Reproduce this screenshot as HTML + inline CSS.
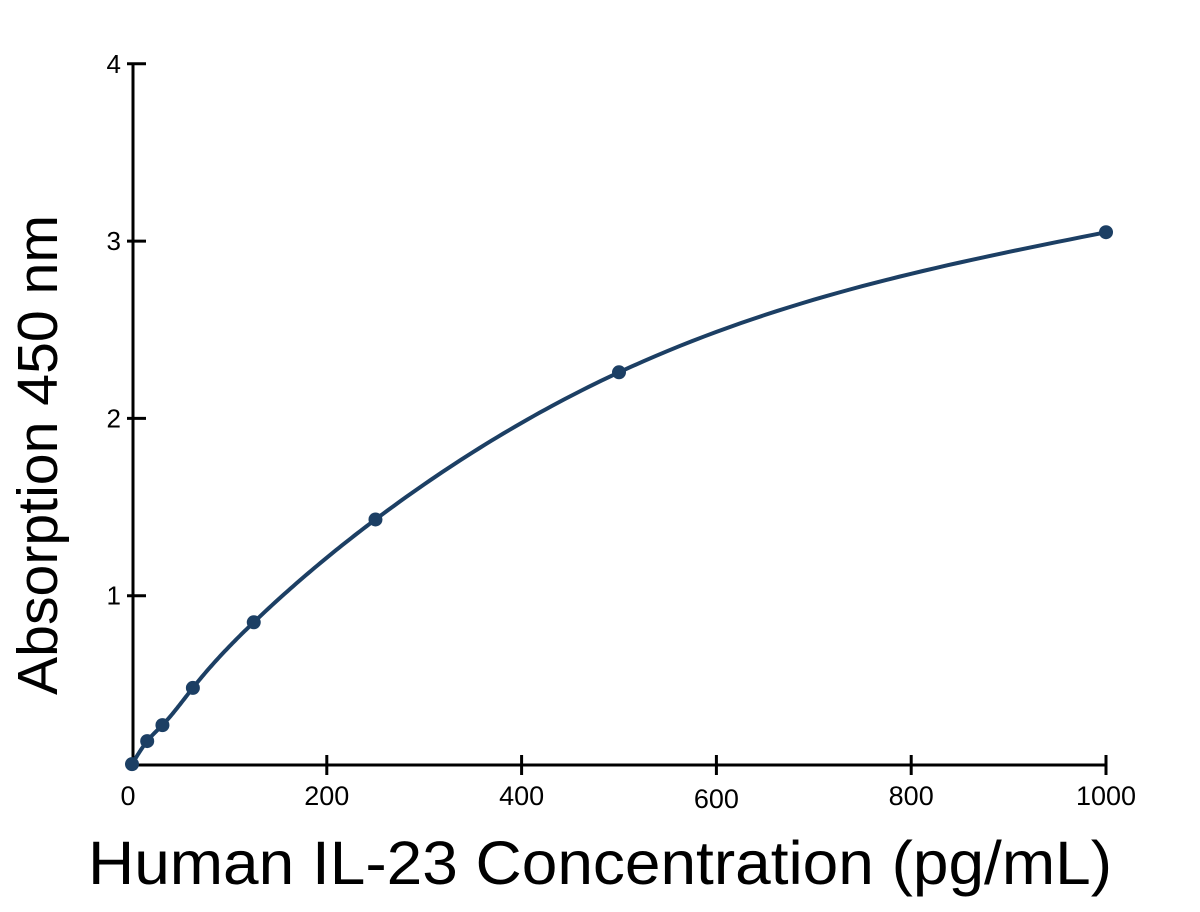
<!DOCTYPE html>
<html><head><meta charset="utf-8"><style>
body{margin:0;background:#fff}
svg{display:block;font-family:"Liberation Sans",sans-serif}
</style></head><body>
<svg id="chart" width="1200" height="912">
<g id="axes"></g><g id="series"></g>
<text x="600" y="884" font-size="61" text-anchor="middle" textLength="1024" lengthAdjust="spacingAndGlyphs">Human IL-23 Concentration (pg/mL)</text>
<text transform="translate(57,455) rotate(-90)" font-size="57" text-anchor="middle" textLength="480" lengthAdjust="spacingAndGlyphs">Absorption 450 nm</text>
</svg>
<script>
const xs=[0,15.6,31.25,62.5,125,250,500,1000];
const ys=[0.05,0.18,0.27,0.48,0.85,1.43,2.26,3.05];
const xTicks=[0,200,400,600,800,1000];
const yTicks=[1,2,3,4];
const NS="http://www.w3.org/2000/svg";
const X=v=>132+v*0.974, Y=v=>773-v*177.3;
function mk(t,a,p){const e=document.createElementNS(NS,t);for(const k in a)e.setAttribute(k,a[k]);p.appendChild(e);return e;}
const ax=document.getElementById('axes'), se=document.getElementById('series');
let l=mk('line',{x1:132,y1:765,x2:1106,y2:765,stroke:'#000','stroke-width':3},ax);


l=mk('line',{x1:133,y1:64,x2:133,y2:765,stroke:'#000','stroke-width':3},ax);


xTicks.forEach(v=>{
 if(v>0){const t=mk('line',{x1:X(v),y1:755,x2:X(v),y2:775,stroke:'#000','stroke-width':3},ax);
 
 }
 const tx=mk('text',{x:X(v)-(v==0?4:0),y:v==600?808:805,'font-size':27,'text-anchor':'middle'},ax);tx.textContent=v;
 
 
});
yTicks.forEach(v=>{
 const t=mk('line',{x1:127,y1:Y(v),x2:146,y2:Y(v),stroke:'#000','stroke-width':3},ax);
 
 
 const tx=mk('text',{x:121,y:Y(v)+9,'font-size':26,'text-anchor':'end'},ax);tx.textContent=v;
 
 
});
// natural cubic spline in data space
const n=xs.length,h=[],al=[0],lw=[1],mu=[0],z=[0],c=new Array(n).fill(0),b=[],dd=[];
for(let i=0;i<n-1;i++)h.push(xs[i+1]-xs[i]);
for(let i=1;i<n-1;i++)al.push(3/h[i]*(ys[i+1]-ys[i])-3/h[i-1]*(ys[i]-ys[i-1]));
for(let i=1;i<n-1;i++){lw[i]=2*(xs[i+1]-xs[i-1])-h[i-1]*mu[i-1];mu[i]=h[i]/lw[i];z[i]=(al[i]-h[i-1]*z[i-1])/lw[i];}
for(let j=n-2;j>=0;j--){c[j]=(j>0?z[j]-mu[j]*c[j+1]:0);b[j]=(ys[j+1]-ys[j])/h[j]-h[j]*(c[j+1]+2*c[j])/3;dd[j]=(c[j+1]-c[j])/(3*h[j]);}
let p='';
for(let i=0;i<n-1;i++){const steps=40;for(let k=(i?1:0);k<=steps;k++){const t=h[i]*k/steps;const yv=ys[i]+b[i]*t+c[i]*t*t+dd[i]*t*t*t;p+=(p?' L':'M')+X(xs[i]+t).toFixed(2)+','+Y(yv).toFixed(2);}}
const path=mk('path',{d:p,fill:'none',stroke:'#1c3f64','stroke-width':4},se);


xs.forEach((v,i)=>{
 const cc=mk('circle',{cx:X(v),cy:Y(ys[i]),r:7,fill:'#1c3f64'},se);
 
 
});
</script>
</body></html>
